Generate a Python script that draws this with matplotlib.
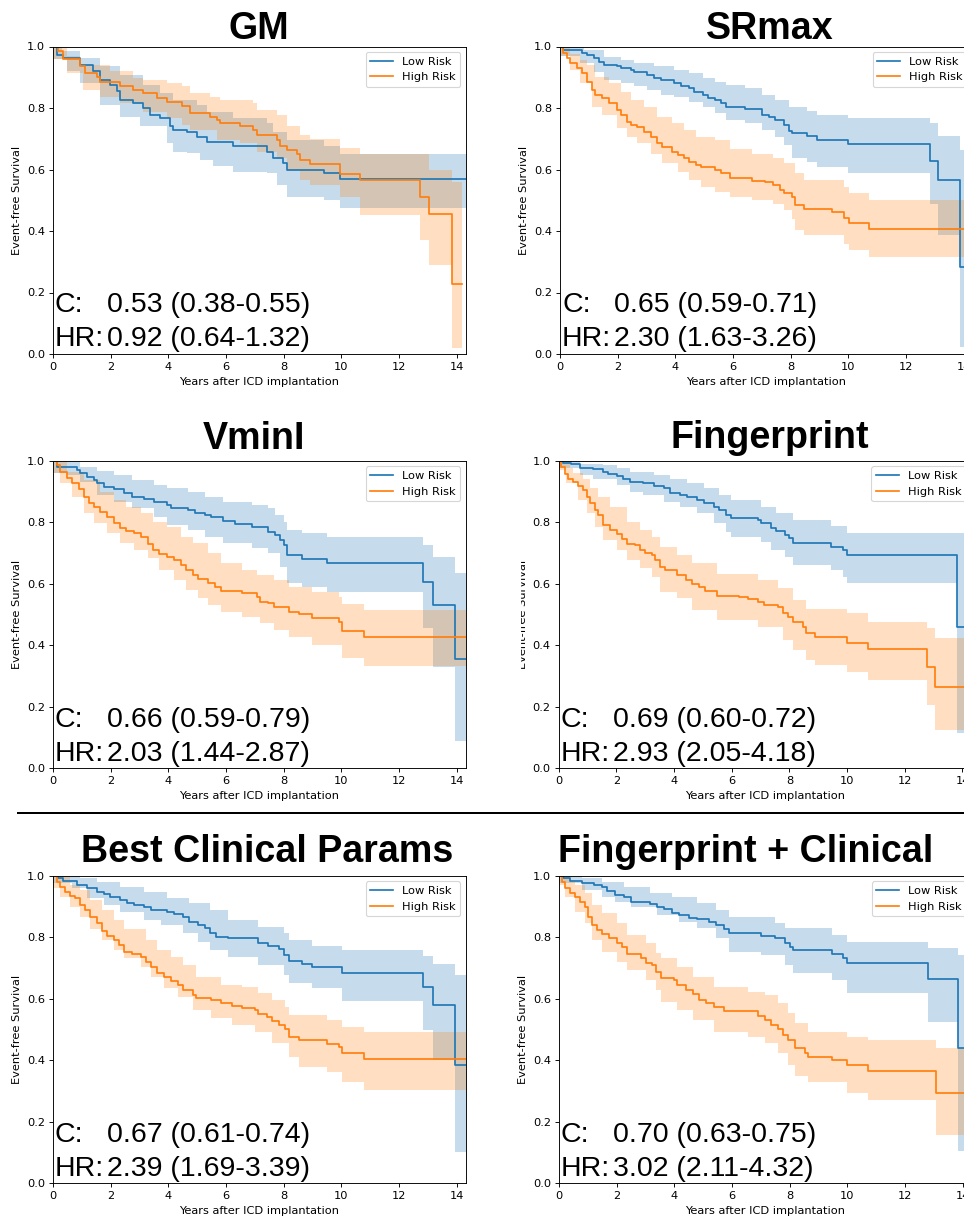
import numpy as np
import matplotlib
matplotlib.use("Agg")
import matplotlib.pyplot as plt
from matplotlib.transforms import offset_copy
from matplotlib.lines import Line2D
from matplotlib.patches import Rectangle

# ---------------- text ----------------
titles = ["GM", "SRmax", "VminI", "Fingerprint", "Best Clinical Params", "Fingerprint + Clinical"]
c_values = ["0.53 (0.38-0.55)", "0.65 (0.59-0.71)", "0.66 (0.59-0.79)",
            "0.69 (0.60-0.72)", "0.67 (0.61-0.74)", "0.70 (0.63-0.75)"]
hr_values = ["0.92 (0.64-1.32)", "2.30 (1.63-3.26)", "2.03 (1.44-2.87)",
             "2.93 (2.05-4.18)", "2.39 (1.69-3.39)", "3.02 (2.11-4.32)"]
group_labels = ["Low Risk", "High Risk"]
x_ticks = [0, 2, 4, 6, 8, 10, 12, 14]
y_ticks = [0.0, 0.2, 0.4, 0.6, 0.8, 1.0]
x_label = "Years after ICD implantation"
y_label = "Event-free Survival"

# ---------------- GM ----------------
gm_low_t = [0, 0.13, 0.36, 0.94, 1.40, 1.63, 1.98, 2.21, 2.32, 2.79, 3.13, 3.36, 3.71, 4.06, 4.17, 4.64, 4.98, 5.33, 6.25, 7.41, 7.64, 7.99, 8.10, 9.38, 9.95]
gm_low_s = [1.0, 0.973, 0.962, 0.94, 0.92, 0.89, 0.875, 0.854, 0.826, 0.816, 0.80, 0.778, 0.767, 0.74, 0.729, 0.723, 0.707, 0.691, 0.675, 0.658, 0.637, 0.62, 0.60, 0.588, 0.569]
gm_low_lo_t = [0, 0.47, 0.94, 1.63, 2.32, 3.02, 3.94, 4.17, 4.64, 5.10, 5.56, 6.25, 7.41, 7.76, 8.10, 9.38, 9.95]
gm_low_lo = [0.96, 0.92, 0.88, 0.81, 0.772, 0.74, 0.685, 0.658, 0.653, 0.631, 0.61, 0.593, 0.588, 0.55, 0.512, 0.50, 0.474]
gm_low_up_t = [0, 0.30, 0.94, 1.63, 2.32, 3.13, 3.71, 4.17, 4.98, 5.33, 6.25, 7.41, 7.64, 8.10, 9.38, 9.95]
gm_low_up = [1.0, 0.985, 0.962, 0.935, 0.907, 0.875, 0.848, 0.826, 0.81, 0.788, 0.767, 0.75, 0.723, 0.696, 0.675, 0.652]
gm_low_end = 14.32

gm_high_t = [0, 0.18, 0.36, 0.94, 1.11, 1.51, 1.63, 2.32, 2.79, 3.13, 3.60, 3.94, 4.46, 4.75, 5.45, 5.68, 5.79, 6.49, 6.95, 7.06, 7.76, 7.87, 8.10, 8.45, 8.57, 8.91, 9.95, 10.65, 12.73, 13.02, 13.83]
gm_high_s = [1.0, 0.984, 0.96, 0.935, 0.913, 0.902, 0.886, 0.87, 0.859, 0.848, 0.832, 0.821, 0.805, 0.785, 0.772, 0.761, 0.75, 0.742, 0.729, 0.713, 0.696, 0.675, 0.664, 0.651, 0.631, 0.617, 0.586, 0.566, 0.512, 0.455, 0.228]
gm_high_lo_t = [0, 0.47, 1.05, 1.63, 2.32, 3.13, 3.94, 4.46, 4.75, 5.68, 6.49, 7.06, 7.76, 8.10, 8.57, 8.91, 9.95, 10.65, 12.73, 13.02, 13.83]
gm_high_lo = [0.96, 0.913, 0.859, 0.837, 0.816, 0.788, 0.767, 0.745, 0.729, 0.696, 0.685, 0.658, 0.637, 0.599, 0.566, 0.55, 0.512, 0.452, 0.371, 0.29, 0.018]
gm_high_up_t = [0, 0.47, 0.94, 1.98, 2.79, 3.13, 3.94, 4.46, 4.75, 5.45, 5.79, 6.95, 7.06, 7.76, 8.10, 8.57, 8.91, 9.95, 10.65, 13.02, 13.83]
gm_high_up = [1.0, 0.97, 0.94, 0.92, 0.897, 0.89, 0.88, 0.87, 0.848, 0.837, 0.826, 0.816, 0.794, 0.778, 0.74, 0.713, 0.70, 0.669, 0.651, 0.60, 0.56]
gm_high_end = 14.17

# ---------------- SRmax ----------------
sr_low_t = [0, 0.12, 0.76, 0.93, 1.17, 1.34, 1.52, 1.98, 2.10, 2.45, 2.56, 3.03, 3.26, 3.50, 3.96, 4.20, 4.49, 4.66, 4.95, 5.13, 5.36, 5.59, 5.77, 6.41, 6.99, 7.23, 7.46, 7.75, 7.93, 8.04, 8.57, 8.92, 9.97, 12.82, 13.11, 13.87]
sr_low_s = [1.0, 0.99, 0.98, 0.973, 0.962, 0.951, 0.94, 0.935, 0.929, 0.924, 0.918, 0.908, 0.897, 0.891, 0.88, 0.872, 0.864, 0.853, 0.842, 0.834, 0.826, 0.815, 0.804, 0.796, 0.777, 0.77, 0.761, 0.745, 0.726, 0.72, 0.709, 0.696, 0.683, 0.628, 0.565, 0.283]
sr_low_lo_t = [0, 0.70, 1.17, 1.52, 2.10, 2.56, 3.03, 3.50, 3.96, 4.49, 4.95, 5.36, 5.77, 6.41, 6.99, 7.46, 7.75, 8.04, 8.57, 8.92, 9.97, 12.82, 13.11, 13.87]
sr_low_lo = [0.97, 0.946, 0.918, 0.891, 0.88, 0.87, 0.859, 0.842, 0.837, 0.821, 0.804, 0.783, 0.761, 0.75, 0.728, 0.707, 0.679, 0.636, 0.625, 0.609, 0.587, 0.489, 0.386, 0.022]
sr_low_up_t = [0, 0.82, 1.52, 2.10, 2.56, 3.26, 3.96, 4.49, 4.95, 5.36, 5.77, 6.41, 6.99, 7.46, 7.93, 8.57, 8.92, 9.97, 12.82, 13.11, 13.87]
sr_low_up = [1.0, 0.99, 0.967, 0.957, 0.946, 0.935, 0.924, 0.913, 0.897, 0.886, 0.875, 0.864, 0.842, 0.826, 0.804, 0.79, 0.777, 0.766, 0.752, 0.709, 0.663]
sr_low_end = 14.32

sr_high_t = [0, 0.12, 0.23, 0.35, 0.58, 0.76, 0.93, 1.11, 1.22, 1.46, 1.69, 1.98, 2.10, 2.33, 2.45, 2.68, 2.91, 3.15, 3.38, 3.55, 3.90, 4.08, 4.31, 4.49, 4.72, 4.90, 5.36, 5.59, 5.89, 6.64, 7.11, 7.40, 7.63, 7.75, 8.04, 8.16, 8.45, 9.44, 9.85, 10.02, 10.72]
sr_high_s = [1.0, 0.978, 0.962, 0.946, 0.929, 0.913, 0.886, 0.859, 0.842, 0.832, 0.815, 0.793, 0.777, 0.755, 0.745, 0.739, 0.723, 0.707, 0.685, 0.674, 0.658, 0.647, 0.636, 0.625, 0.614, 0.609, 0.598, 0.587, 0.571, 0.563, 0.56, 0.549, 0.533, 0.524, 0.511, 0.484, 0.473, 0.462, 0.443, 0.426, 0.408]
sr_high_lo_t = [0, 0.35, 0.70, 1.11, 1.46, 1.98, 2.33, 2.68, 3.15, 3.55, 4.08, 4.49, 4.90, 5.36, 5.89, 6.64, 7.40, 7.75, 8.04, 8.16, 8.45, 9.85, 10.02, 10.72]
sr_high_lo = [0.97, 0.924, 0.88, 0.804, 0.777, 0.734, 0.707, 0.685, 0.652, 0.62, 0.592, 0.565, 0.543, 0.527, 0.511, 0.50, 0.489, 0.467, 0.44, 0.402, 0.386, 0.359, 0.337, 0.315]
sr_high_up_t = [0, 0.35, 0.70, 0.93, 1.22, 1.69, 2.10, 2.45, 2.91, 3.38, 3.90, 4.31, 4.72, 5.36, 5.89, 6.64, 7.40, 7.75, 8.16, 8.45, 9.85, 10.02, 10.72]
sr_high_up = [1.0, 0.975, 0.957, 0.94, 0.902, 0.88, 0.853, 0.826, 0.804, 0.772, 0.75, 0.728, 0.707, 0.696, 0.668, 0.652, 0.636, 0.62, 0.587, 0.565, 0.543, 0.522, 0.50]
sr_high_end = 14.32

# ---------------- VminI ----------------
vm_low_t = [0, 0.13, 0.83, 0.94, 1.18, 1.41, 1.53, 1.76, 2.11, 2.46, 2.75, 3.16, 3.51, 3.97, 4.09, 4.67, 4.91, 5.26, 5.49, 5.90, 6.31, 6.89, 7.47, 7.70, 7.88, 8.00, 8.11, 8.64, 9.51, 12.83, 13.18, 13.94]
vm_low_s = [1.0, 0.98, 0.97, 0.959, 0.948, 0.937, 0.926, 0.913, 0.907, 0.896, 0.883, 0.874, 0.867, 0.856, 0.845, 0.84, 0.831, 0.823, 0.816, 0.804, 0.794, 0.785, 0.769, 0.758, 0.742, 0.726, 0.693, 0.679, 0.666, 0.607, 0.531, 0.354]
vm_low_lo_t = [0, 0.48, 0.94, 1.53, 2.11, 2.75, 3.51, 3.97, 4.67, 5.26, 5.90, 6.89, 7.47, 7.88, 8.11, 8.64, 9.51, 12.83, 13.18, 13.94]
vm_low_lo = [0.96, 0.953, 0.932, 0.888, 0.867, 0.845, 0.818, 0.791, 0.775, 0.753, 0.731, 0.715, 0.699, 0.655, 0.601, 0.59, 0.574, 0.455, 0.33, 0.09]
vm_low_up_t = [0, 0.94, 1.53, 2.11, 2.75, 3.51, 3.97, 4.67, 5.26, 5.90, 6.89, 7.47, 7.70, 8.00, 8.11, 8.64, 9.51, 12.83, 13.18, 13.94]
vm_low_up = [1.0, 0.98, 0.967, 0.953, 0.937, 0.921, 0.91, 0.899, 0.883, 0.867, 0.856, 0.845, 0.823, 0.80, 0.775, 0.764, 0.753, 0.726, 0.688, 0.636]
vm_low_end = 14.32

vm_high_t = [0, 0.13, 0.24, 0.48, 0.65, 0.89, 1.06, 1.24, 1.41, 1.64, 1.88, 2.11, 2.34, 2.52, 2.81, 3.04, 3.28, 3.45, 3.68, 3.97, 4.21, 4.44, 4.62, 4.85, 5.02, 5.37, 5.61, 5.84, 6.54, 7.06, 7.18, 7.47, 7.65, 8.17, 8.52, 8.99, 9.92, 10.03, 10.79]
vm_high_s = [1.0, 0.986, 0.964, 0.943, 0.926, 0.907, 0.883, 0.861, 0.848, 0.834, 0.818, 0.796, 0.78, 0.771, 0.764, 0.751, 0.729, 0.71, 0.697, 0.688, 0.677, 0.661, 0.645, 0.628, 0.614, 0.601, 0.59, 0.576, 0.571, 0.558, 0.542, 0.536, 0.523, 0.509, 0.502, 0.488, 0.477, 0.447, 0.428]
vm_high_lo_t = [0, 0.24, 0.65, 1.06, 1.41, 1.88, 2.34, 2.81, 3.28, 3.68, 4.21, 4.62, 5.02, 5.37, 5.84, 6.54, 7.18, 7.65, 8.17, 8.99, 10.03, 10.79]
vm_high_lo = [0.96, 0.926, 0.883, 0.829, 0.796, 0.764, 0.731, 0.71, 0.683, 0.645, 0.612, 0.58, 0.553, 0.531, 0.509, 0.493, 0.471, 0.45, 0.428, 0.401, 0.358, 0.333]
vm_high_up_t = [0, 0.48, 1.06, 1.64, 2.11, 2.52, 3.04, 3.45, 3.97, 4.44, 4.85, 5.37, 5.84, 6.54, 7.06, 7.65, 8.17, 8.99, 9.92, 10.03, 10.79]
vm_high_up = [1.0, 0.964, 0.937, 0.899, 0.872, 0.85, 0.829, 0.802, 0.785, 0.753, 0.731, 0.699, 0.666, 0.645, 0.628, 0.612, 0.59, 0.574, 0.558, 0.534, 0.515]
vm_high_end = 14.32

# ---------------- Fingerprint ----------------
fp_low_t = [0, 0.15, 0.44, 0.73, 1.20, 1.55, 1.72, 2.01, 2.24, 2.48, 2.94, 3.29, 3.64, 3.87, 4.22, 4.45, 4.80, 5.03, 5.38, 5.56, 5.79, 5.97, 6.90, 7.01, 7.36, 7.53, 7.83, 8.00, 8.12, 9.45, 9.86, 9.98, 13.81]
fp_low_s = [1.0, 0.993, 0.988, 0.977, 0.972, 0.964, 0.957, 0.95, 0.942, 0.931, 0.926, 0.917, 0.91, 0.896, 0.888, 0.883, 0.872, 0.861, 0.85, 0.839, 0.823, 0.813, 0.807, 0.796, 0.78, 0.771, 0.758, 0.747, 0.733, 0.72, 0.71, 0.694, 0.46]
fp_low_lo_t = [0, 0.73, 1.20, 2.01, 2.48, 2.94, 3.64, 4.22, 4.80, 5.38, 5.79, 5.97, 7.01, 7.36, 7.83, 8.12, 9.45, 9.86, 9.98, 13.81]
fp_low_lo = [0.975, 0.953, 0.942, 0.92, 0.899, 0.888, 0.867, 0.85, 0.829, 0.796, 0.769, 0.753, 0.736, 0.71, 0.688, 0.661, 0.645, 0.623, 0.601, 0.114]
fp_low_up_t = [0, 0.73, 1.55, 2.01, 2.48, 3.29, 3.87, 4.45, 5.03, 5.56, 5.97, 7.01, 7.53, 8.12, 9.45, 9.98]
fp_low_up = [1.0, 0.99, 0.986, 0.975, 0.964, 0.953, 0.942, 0.926, 0.91, 0.888, 0.872, 0.85, 0.829, 0.807, 0.788, 0.764]
fp_low_end = 14.32

fp_high_t = [0, 0.09, 0.21, 0.33, 0.50, 0.67, 0.85, 0.97, 1.08, 1.26, 1.37, 1.55, 1.78, 2.01, 2.19, 2.36, 2.65, 2.83, 3.00, 3.23, 3.35, 3.52, 3.70, 4.10, 4.40, 4.63, 4.86, 5.09, 5.50, 6.26, 6.55, 6.90, 7.13, 7.59, 7.77, 7.94, 8.12, 8.47, 8.58, 8.87, 9.98, 10.73, 12.77, 13.06]
fp_high_s = [1.0, 0.98, 0.957, 0.942, 0.932, 0.918, 0.905, 0.883, 0.861, 0.839, 0.823, 0.79, 0.774, 0.763, 0.744, 0.729, 0.725, 0.711, 0.70, 0.692, 0.677, 0.655, 0.645, 0.628, 0.612, 0.599, 0.588, 0.577, 0.56, 0.558, 0.549, 0.541, 0.531, 0.523, 0.504, 0.491, 0.474, 0.46, 0.439, 0.428, 0.408, 0.387, 0.33, 0.264]
fp_high_lo_t = [0, 0.27, 0.67, 0.97, 1.26, 1.55, 2.01, 2.36, 2.83, 3.23, 3.52, 4.10, 4.63, 5.50, 6.90, 7.77, 8.12, 8.58, 8.87, 9.98, 10.73, 12.77, 13.06]
fp_high_lo = [0.97, 0.926, 0.872, 0.829, 0.786, 0.741, 0.709, 0.677, 0.65, 0.623, 0.574, 0.553, 0.514, 0.482, 0.46, 0.417, 0.385, 0.352, 0.336, 0.314, 0.287, 0.206, 0.125]
fp_high_up_t = [0, 0.38, 0.50, 0.85, 1.08, 1.37, 1.78, 2.36, 2.83, 3.23, 3.52, 4.10, 4.63, 5.50, 6.90, 7.59, 8.12, 8.58, 9.98, 10.73, 12.77, 13.06]
fp_high_up = [1.0, 0.975, 0.959, 0.942, 0.91, 0.883, 0.85, 0.802, 0.775, 0.753, 0.72, 0.693, 0.666, 0.632, 0.611, 0.585, 0.547, 0.519, 0.504, 0.477, 0.455, 0.422]
fp_high_end = 14.32

# ---------------- Best Clinical Params ----------------
bc_low_t = [0, 0.19, 0.36, 0.83, 1.18, 1.53, 1.76, 1.99, 2.34, 2.58, 2.81, 3.16, 3.39, 3.97, 4.21, 4.50, 4.73, 5.02, 5.26, 5.43, 5.66, 6.07, 7.12, 7.47, 7.82, 8.00, 8.17, 8.64, 8.99, 10.03, 12.83, 13.18, 13.94]
bc_low_s = [1.0, 0.991, 0.984, 0.97, 0.959, 0.948, 0.94, 0.93, 0.92, 0.912, 0.905, 0.897, 0.888, 0.883, 0.875, 0.867, 0.85, 0.84, 0.829, 0.815, 0.802, 0.798, 0.78, 0.771, 0.763, 0.742, 0.724, 0.713, 0.702, 0.685, 0.637, 0.58, 0.385]
bc_low_lo_t = [0, 0.65, 1.18, 1.76, 2.34, 3.16, 3.74, 4.50, 5.02, 5.43, 6.07, 7.12, 8.00, 8.17, 8.99, 10.03, 12.83, 13.18, 13.94]
bc_low_lo = [0.975, 0.959, 0.926, 0.905, 0.883, 0.856, 0.84, 0.813, 0.785, 0.758, 0.737, 0.71, 0.677, 0.65, 0.634, 0.594, 0.498, 0.401, 0.10]
bc_low_up_t = [0, 0.94, 1.53, 2.34, 3.16, 3.97, 4.73, 5.43, 6.07, 7.12, 8.00, 8.17, 8.99, 10.03, 12.83, 13.18, 13.94]
bc_low_up = [1.0, 0.991, 0.98, 0.964, 0.948, 0.926, 0.91, 0.888, 0.856, 0.834, 0.813, 0.79, 0.771, 0.76, 0.739, 0.713, 0.677]
bc_low_end = 14.32

bc_high_t = [0, 0.13, 0.24, 0.42, 0.59, 0.77, 0.94, 1.12, 1.29, 1.53, 1.70, 1.88, 2.11, 2.28, 2.46, 2.75, 3.04, 3.22, 3.39, 3.62, 3.86, 4.09, 4.32, 4.50, 4.85, 4.97, 5.49, 5.84, 6.19, 6.54, 7.00, 7.12, 7.41, 7.59, 7.82, 8.05, 8.17, 8.52, 9.51, 9.92, 10.03, 10.79]
bc_high_s = [1.0, 0.98, 0.964, 0.948, 0.934, 0.926, 0.905, 0.888, 0.867, 0.845, 0.821, 0.804, 0.791, 0.775, 0.753, 0.745, 0.737, 0.72, 0.702, 0.683, 0.672, 0.656, 0.645, 0.629, 0.612, 0.601, 0.596, 0.585, 0.577, 0.569, 0.562, 0.551, 0.54, 0.526, 0.515, 0.501, 0.477, 0.466, 0.453, 0.442, 0.423, 0.403]
bc_high_lo_t = [0, 0.24, 0.59, 0.94, 1.29, 1.70, 2.11, 2.46, 3.04, 3.39, 3.86, 4.32, 4.85, 5.49, 6.19, 7.00, 7.59, 8.17, 8.52, 9.51, 10.03, 10.79]
bc_high_lo = [0.96, 0.932, 0.899, 0.867, 0.828, 0.791, 0.758, 0.731, 0.704, 0.672, 0.634, 0.607, 0.564, 0.536, 0.515, 0.493, 0.455, 0.412, 0.379, 0.363, 0.33, 0.303]
bc_high_up_t = [0, 0.59, 0.94, 1.29, 1.70, 2.11, 2.46, 3.22, 3.62, 4.09, 4.50, 4.97, 5.84, 6.54, 7.12, 7.59, 8.05, 8.17, 9.51, 10.03, 10.79]
bc_high_up = [1.0, 0.97, 0.953, 0.921, 0.888, 0.856, 0.828, 0.791, 0.758, 0.737, 0.71, 0.672, 0.645, 0.639, 0.618, 0.596, 0.574, 0.547, 0.531, 0.509, 0.493]
bc_high_end = 14.32

# ---------------- Fingerprint + Clinical ----------------
fc_low_t = [0, 0.15, 0.38, 0.79, 1.20, 1.49, 1.66, 1.95, 2.24, 2.48, 3.17, 3.41, 3.64, 3.93, 4.16, 4.51, 4.80, 5.21, 5.44, 5.73, 5.91, 7.01, 7.48, 7.83, 8.00, 8.12, 9.45, 9.86, 9.98, 12.80, 13.85]
fc_low_s = [1.0, 0.991, 0.984, 0.977, 0.97, 0.962, 0.951, 0.937, 0.93, 0.915, 0.907, 0.897, 0.891, 0.88, 0.872, 0.864, 0.858, 0.85, 0.84, 0.826, 0.813, 0.804, 0.796, 0.78, 0.769, 0.758, 0.745, 0.731, 0.715, 0.663, 0.44]
fc_low_lo_t = [0, 0.79, 1.49, 1.95, 2.48, 3.41, 4.16, 4.80, 5.44, 5.91, 7.01, 7.83, 8.12, 9.45, 9.98, 12.80, 13.85]
fc_low_lo = [0.975, 0.953, 0.932, 0.915, 0.899, 0.872, 0.85, 0.829, 0.796, 0.753, 0.742, 0.71, 0.683, 0.661, 0.62, 0.525, 0.106]
fc_low_up_t = [0, 0.79, 1.49, 2.24, 3.17, 3.93, 4.80, 5.44, 5.91, 7.48, 7.83, 9.45, 9.98, 12.80, 13.85]
fc_low_up = [1.0, 0.991, 0.98, 0.964, 0.943, 0.93, 0.91, 0.888, 0.867, 0.845, 0.829, 0.807, 0.785, 0.764, 0.742]
fc_low_end = 14.32

fc_high_t = [0, 0.09, 0.21, 0.38, 0.56, 0.73, 0.91, 1.02, 1.14, 1.31, 1.49, 1.72, 2.01, 2.19, 2.36, 2.83, 3.00, 3.23, 3.35, 3.52, 3.99, 4.10, 4.40, 4.63, 4.86, 5.09, 5.38, 5.73, 6.90, 7.13, 7.36, 7.59, 7.77, 7.94, 8.17, 8.52, 8.64, 9.45, 9.98, 10.73, 13.08]
fc_high_s = [1.0, 0.98, 0.959, 0.943, 0.93, 0.915, 0.897, 0.867, 0.84, 0.824, 0.81, 0.796, 0.78, 0.769, 0.745, 0.731, 0.717, 0.709, 0.688, 0.666, 0.661, 0.645, 0.628, 0.615, 0.597, 0.587, 0.574, 0.561, 0.544, 0.531, 0.515, 0.501, 0.482, 0.466, 0.439, 0.425, 0.412, 0.401, 0.385, 0.366, 0.293]
fc_high_lo_t = [0, 0.21, 0.56, 0.91, 1.14, 1.49, 2.01, 2.36, 3.00, 3.35, 3.52, 4.10, 4.63, 5.38, 6.55, 7.13, 7.59, 7.94, 8.17, 8.64, 9.98, 10.73, 13.08]
fc_high_lo = [0.97, 0.932, 0.883, 0.845, 0.791, 0.753, 0.72, 0.693, 0.661, 0.628, 0.59, 0.563, 0.531, 0.493, 0.477, 0.455, 0.423, 0.385, 0.347, 0.33, 0.293, 0.271, 0.157]
fc_high_up_t = [0, 0.38, 0.56, 0.91, 1.14, 1.49, 2.01, 2.36, 3.00, 3.35, 3.52, 4.10, 4.63, 5.38, 6.55, 7.13, 7.59, 7.94, 8.17, 8.64, 9.98, 10.73, 13.08]
fc_high_up = [1.0, 0.985, 0.97, 0.943, 0.905, 0.878, 0.845, 0.807, 0.78, 0.747, 0.731, 0.704, 0.672, 0.639, 0.623, 0.612, 0.585, 0.552, 0.52, 0.493, 0.477, 0.466, 0.439]
fc_high_end = 14.32

panels = [
    [(gm_low_t, gm_low_s, gm_low_lo_t, gm_low_lo, gm_low_up_t, gm_low_up, gm_low_end),
     (gm_high_t, gm_high_s, gm_high_lo_t, gm_high_lo, gm_high_up_t, gm_high_up, gm_high_end)],
    [(sr_low_t, sr_low_s, sr_low_lo_t, sr_low_lo, sr_low_up_t, sr_low_up, sr_low_end),
     (sr_high_t, sr_high_s, sr_high_lo_t, sr_high_lo, sr_high_up_t, sr_high_up, sr_high_end)],
    [(vm_low_t, vm_low_s, vm_low_lo_t, vm_low_lo, vm_low_up_t, vm_low_up, vm_low_end),
     (vm_high_t, vm_high_s, vm_high_lo_t, vm_high_lo, vm_high_up_t, vm_high_up, vm_high_end)],
    [(fp_low_t, fp_low_s, fp_low_lo_t, fp_low_lo, fp_low_up_t, fp_low_up, fp_low_end),
     (fp_high_t, fp_high_s, fp_high_lo_t, fp_high_lo, fp_high_up_t, fp_high_up, fp_high_end)],
    [(bc_low_t, bc_low_s, bc_low_lo_t, bc_low_lo, bc_low_up_t, bc_low_up, bc_low_end),
     (bc_high_t, bc_high_s, bc_high_lo_t, bc_high_lo, bc_high_up_t, bc_high_up, bc_high_end)],
    [(fc_low_t, fc_low_s, fc_low_lo_t, fc_low_lo, fc_low_up_t, fc_low_up, fc_low_end),
     (fc_high_t, fc_high_s, fc_high_lo_t, fc_high_lo, fc_high_up_t, fc_high_up, fc_high_end)],
]

# ---------------- layout (pixels) ----------------
W, H, DPI = 964, 1218, 82
AX_W, AX_H = 413, 307.5
ax_pos = [(53, 46.5), (560, 46.5), (53, 460.7), (558.7, 460.7), (53, 875.7), (559, 875.7)]
title_pos = [(258.6, 39.3), (769.7, 39.3), (253.5, 449.0), (770, 448.3), (267.5, 861.7), (746, 862.3)]
colors = ["#1f77b4", "#ff7f0e"]
X_MAX = 14.32


def step_eval(t, v, grid):
    t = np.asarray(t, float)
    v = np.asarray(v, float)
    idx = np.searchsorted(t, grid, side="right") - 1
    return v[np.clip(idx, 0, None)]


fig = plt.figure(figsize=(W / DPI, H / DPI), dpi=DPI)

for i, (ax_l, ax_t) in enumerate(ax_pos):
    ax = fig.add_axes([ax_l / W, 1 - (ax_t + AX_H) / H, AX_W / W, AX_H / H])
    for g, (t, s, lo_t, lo, up_t, up, t_end) in enumerate(panels[i]):
        grid = np.unique(np.concatenate([lo_t, up_t]))
        lo_g = step_eval(lo_t, lo, grid)
        up_g = step_eval(up_t, up, grid)
        gx = np.append(grid, t_end)
        ax.fill_between(gx, np.append(lo_g, lo_g[-1]), np.append(up_g, up_g[-1]),
                        step="post", color=colors[g], alpha=0.25, linewidth=0)
        ax.step(np.append(t, t_end), np.append(s, s[-1]), where="post",
                color=colors[g], lw=1.5, label=group_labels[g])
    ax.set_xlim(0, X_MAX)
    ax.set_ylim(0, 1.0)
    ax.set_xticks(x_ticks)
    ax.set_yticks(y_ticks)
    ax.set_xlabel(x_label)
    ax.set_ylabel(y_label)
    ax.legend(loc="upper right")
    tr_c = offset_copy(ax.transAxes, fig=fig, x=2, y=41.5, units="dots")
    tr_cv = offset_copy(ax.transAxes, fig=fig, x=54, y=41.5, units="dots")
    tr_h = offset_copy(ax.transAxes, fig=fig, x=2, y=7.5, units="dots")
    tr_hv = offset_copy(ax.transAxes, fig=fig, x=54, y=7.5, units="dots")
    kw = dict(fontsize=25, family="Liberation Sans", va="baseline", ha="left")
    ax.text(0, 0, "C:", transform=tr_c, **kw)
    ax.text(0, 0, c_values[i], transform=tr_cv, **kw)
    ax.text(0, 0, "HR:", transform=tr_h, **kw)
    ax.text(0, 0, hr_values[i], transform=tr_hv, **kw)

    cx, by = title_pos[i]
    fig.text(cx / W, 1 - by / H, titles[i], ha="center", va="baseline",
             fontsize=33, fontweight="bold", family="Liberation Sans")

# separator line between the rows
fig.add_artist(Line2D([18 / W, 1.0], [1 - 813.3 / H, 1 - 813.3 / H],
                      transform=fig.transFigure, color="black", lw=2 * 72 / DPI))
# cropped y-label edge in the Fingerprint panel
fig.add_artist(Rectangle((505 / W, 1 - 680 / H), 15 / W, 130 / H,
                         transform=fig.transFigure, color="white", zorder=10))

fig.savefig("out.png", dpi=DPI)
